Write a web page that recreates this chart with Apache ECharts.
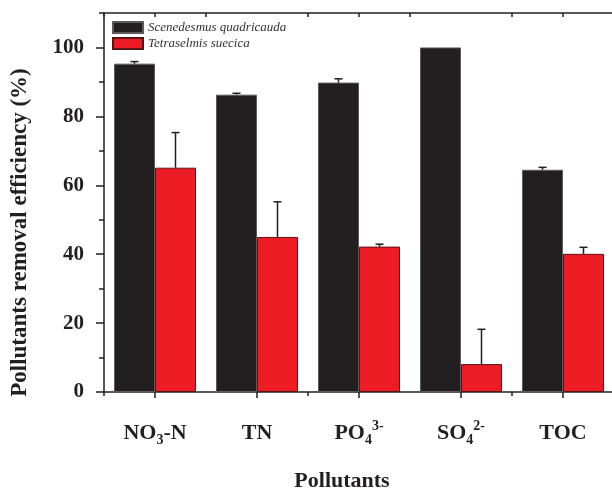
<!DOCTYPE html>
<html>
<head>
<meta charset="utf-8">
<script src="https://cdn.jsdelivr.net/npm/echarts@6/dist/echarts.min.js"></script>
<style>
  html, body { margin: 0; padding: 0; background: #fff; }
  #chart { width: 612px; height: 489px; }
</style>
</head>
<body>
<div id="chart"></div>
<script>
// data
const categories = ['NO{sub|3}-N', 'TN', 'PO{sub|4}{sup|3-}', 'SO{sub|4}{sup|2-}', 'TOC']
const seriesNames = ['Scenedesmus quadricauda', 'Tetraselmis suecica']
const scenedesmus = [95.3, 86.3, 89.8, 100, 64.5]
const scenedesmusErr = [0.6, 0.4, 1.1, 0, 0.7]
const tetraselmis = [65.1, 45.0, 42.2, 8.1, 40.1]
const tetraselmisErr = [10.2, 10.2, 0.7, 10.1, 1.9]
const yTicks = [0, 20, 40, 60, 80, 100]

const BAR_W = 41
const FONT = '"Liberation Serif", "Times New Roman", serif'
const INK = '#231f20'

let myChart = echarts.init(document.getElementById('chart'))

// error bars (upper half only), shifted onto each bar
function errorSeries(values, errs, shift) {
  return {
    type: 'custom',
    xAxisIndex: 0,
    yAxisIndex: 0,
    z: 5,
    data: values.map((v, i) => [i, v, v + errs[i]]),
    renderItem: function (params, api) {
      if (api.value(2) - api.value(1) <= 0) return null
      let lo = api.coord([api.value(0), api.value(1)])
      let hi = api.coord([api.value(0), api.value(2)])
      let x = lo[0] + shift
      let style = { stroke: INK, lineWidth: 1.5 }
      return {
        type: 'group',
        children: [
          { type: 'line', shape: { x1: x, y1: lo[1], x2: x, y2: hi[1] }, style: style },
          { type: 'line', shape: { x1: x - 4, y1: hi[1], x2: x + 4, y2: hi[1] }, style: style }
        ]
      }
    }
  }
}

let catAxisBase = {
  type: 'category',
  data: categories,
  axisLine: { lineStyle: { color: INK, width: 1.5 } },
  splitLine: { show: false }
}

let option = {
  backgroundColor: '#fff',
  animation: false,
  grid: { left: 104, right: -2, top: 13, bottom: 97, containLabel: false, outerBoundsMode: 'none' },
  legend: {
    orient: 'vertical',
    left: 107,
    top: 16,
    itemWidth: 30,
    itemHeight: 11,
    itemGap: 3,
    icon: 'rect',
    data: seriesNames,
    textStyle: { fontFamily: FONT, fontStyle: 'italic', fontSize: 13, color: '#333' }
  },
  xAxis: [
    Object.assign({}, catAxisBase, {
      position: 'bottom',
      axisTick: { show: true, alignWithLabel: true, inside: false, length: 6, lineStyle: { color: INK, width: 1.5 } },
      axisLabel: {
        interval: 0,
        margin: 27,
        fontFamily: FONT,
        fontWeight: 'bold',
        fontSize: 22,
        color: INK,
        lineHeight: 28,
        rich: {
          sub: { fontFamily: FONT, fontWeight: 'bold', fontSize: 14, lineHeight: 14, verticalAlign: 'bottom', color: INK },
          sup: { fontFamily: FONT, fontWeight: 'bold', fontSize: 14, lineHeight: 14, verticalAlign: 'top', color: INK }
        }
      },
      name: 'Pollutants',
      nameLocation: 'middle',
      nameGap: 78,
      nameTextStyle: { fontFamily: FONT, fontWeight: 'bold', fontSize: 22, color: INK, padding: [0, 34, 0, 0] }
    }),
    // boundary ticks at the bottom
    Object.assign({}, catAxisBase, {
      position: 'bottom',
      axisLine: { show: false },
      axisTick: { show: true, inside: false, length: 4, lineStyle: { color: INK, width: 1.5 } },
      axisLabel: { show: false }
    }),
    // top frame, ticks pointing in
    Object.assign({}, catAxisBase, {
      position: 'top',
      axisTick: { show: true, inside: true, length: 4, interval: 0, lineStyle: { color: INK, width: 1.5 } },
      axisLabel: { show: false }
    }),
    Object.assign({}, catAxisBase, {
      position: 'top',
      axisLine: { show: false },
      axisTick: { show: true, alignWithLabel: true, inside: true, length: 4, lineStyle: { color: INK, width: 1.5 } },
      axisLabel: { show: false }
    })
  ],
  yAxis: [
    {
      type: 'value',
      min: 0,
      max: 110,
      interval: 20,
      axisLine: { show: true, lineStyle: { color: INK, width: 1.5 } },
      axisTick: { show: true, length: 8, lineStyle: { color: INK, width: 1.5 } },
      splitLine: { show: false },
      axisLabel: {
        margin: 20,
        showMaxLabel: false,
        fontFamily: FONT,
        fontWeight: 'bold',
        fontSize: 21,
        color: INK,
        formatter: function (v) { return yTicks.indexOf(v) >= 0 ? String(v) : '' }
      },
      name: 'Pollutants removal efficiency (%)',
      nameLocation: 'middle',
      nameGap: 72,
      nameTextStyle: { fontFamily: FONT, fontWeight: 'bold', fontSize: 23, color: INK, padding: [0, 60, 0, 0] }
    },
    {
      type: 'value',
      min: 0,
      max: 110,
      interval: 10,
      position: 'left',
      axisLine: { show: false },
      axisTick: { show: true, length: 5, lineStyle: { color: INK, width: 1.5 } },
      axisLabel: { show: false },
      splitLine: { show: false }
    }
  ],
  series: [
    {
      name: seriesNames[0],
      type: 'bar',
      barWidth: BAR_W,
      barGap: '0%',
      data: scenedesmus,
      itemStyle: { color: INK, borderColor: '#5c5a5b', borderWidth: 1 }
    },
    {
      name: seriesNames[1],
      type: 'bar',
      barWidth: BAR_W,
      barGap: '0%',
      data: tetraselmis,
      itemStyle: { color: '#ed1c24', borderColor: '#5a1416', borderWidth: 1 }
    },
    errorSeries(scenedesmus, scenedesmusErr, -BAR_W / 2),
    errorSeries(tetraselmis, tetraselmisErr, BAR_W / 2)
  ]
}

myChart.setOption(option)
</script>
</body>
</html>
